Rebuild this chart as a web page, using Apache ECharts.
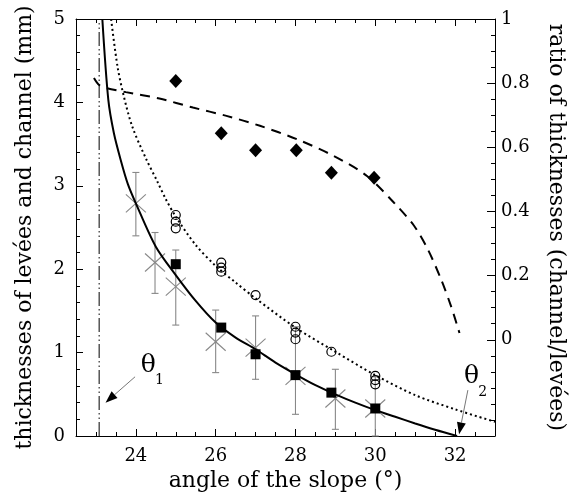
<!DOCTYPE html>
<html><head><meta charset="utf-8">
<script src="https://cdn.jsdelivr.net/npm/echarts@6/dist/echarts.min.js"></script>
<style>html,body{margin:0;padding:0;background:#fff}#c{width:588px;height:499px}</style>
</head><body><div id="c"></div>
<script>
const FONT = 'DejaVu Serif';
// tick labels
const xTickLabels = [24, 26, 28, 30, 32];
const leftTickLabels = [0, 1, 2, 3, 4, 5];
const rightTickLabels = [0, 0.2, 0.4, 0.6, 0.8, 1];
// fitted curves
const channelFit = [[23.16,5.0],[23.31,4.03],[23.45,3.63],[23.62,3.31],[23.8,3.02],[24,2.79],[24.5,2.27],[25,1.93],[25.5,1.62],[26,1.36],[26.5,1.18],[27,1.04],[27.5,0.88],[28,0.74],[28.5,0.61],[29,0.50],[29.5,0.40],[30,0.31],[30.5,0.23],[31,0.15],[31.5,0.075],[32.05,0]];
const leveeFit = [[23.38,5.0],[23.54,4.43],[23.7,4.07],[23.91,3.71],[24.25,3.33],[24.55,3.04],[24.75,2.84],[25,2.63],[25.5,2.29],[26,2.04],[26.5,1.84],[27,1.65],[28,1.30],[29,1.01],[30,0.73],[31,0.49],[32,0.32],[33,0.17]];
const ratioFit = [[22.95,0.816],[23.08,0.794],[23.28,0.784],[23.75,0.772],[24.59,0.752],[25.43,0.724],[26.27,0.698],[27.11,0.667],[28.04,0.625],[28.96,0.573],[29.8,0.51],[30.47,0.427],[30.98,0.354],[31.32,0.281],[31.65,0.188],[31.9,0.104],[32.11,0.021]];
// measured points
const ratioPts = [[25,0.807],[26.14,0.644],[27,0.591],[28.02,0.591],[28.9,0.521],[29.97,0.505]];
const leveePts = [[25,2.65],[25,2.57],[25,2.49],[26.14,2.08],[26.14,2.02],[26.14,1.97],[27,1.69],[28,1.31],[28,1.24],[28,1.16],[28.9,1.01],[30,0.72],[30,0.67],[30,0.62]];
const channelPts = [[25,2.06],[26.14,1.30],[27,0.98],[28,0.73],[28.9,0.52],[30,0.33]];
// x, mean, low, high
const crossPts = [[24,2.79,2.40,3.16],[24.48,2.08,1.71,2.44],[25,1.79,1.33,2.23],[26,1.13,0.76,1.51],[27,1.06,0.68,1.44],[28,0.72,0.26,1.31],[29,0.45,0.08,0.80],[30,0.33,0.0,0.71]];
// theta1 vertical line
const theta1X = [23.08];
// annotations: arrow from (x1,y1) to (x2,y2)
const arrows = [[23.98,0.71,23.24,0.40],[32.32,0.55,32.1,0.02]];
// symbol, subscript, symbol pos, subscript pos
const thetaLabels = [['θ','1',24.31,0.85,24.59,0.67],['θ','2',32.41,0.71,32.69,0.52]];

const chart = echarts.init(document.getElementById('c'), null, {renderer:'canvas'});
const lbl = {fontFamily: FONT, fontSize: 18, color: '#000'};
const nameStyle = {fontFamily: FONT, fontSize: 22, color: '#000'};
const axLine = {show:true, onZero:false, lineStyle:{color:'#000', width:1}};
const noLine = {show:false, onZero:false};

chart.setOption({
  animation: false,
  backgroundColor: '#fff',
  grid: {left: 76, right: 93, top: 19, bottom: 63},
  xAxis: [
    {type:'value', min:22.5, max:33, position:'bottom', axisLine:axLine,
     axisTick:{show:true, inside:true, length:7, customValues:xTickLabels, lineStyle:{color:'#000'}},
     axisLabel:Object.assign({margin:11, customValues:xTickLabels}, lbl),
     splitLine:{show:false},
     name:'angle of the slope (°)', nameLocation:'middle', nameGap:34, nameTextStyle:nameStyle},
    {type:'value', min:22.5, max:33, interval:0.5, position:'bottom', axisLine:noLine,
     axisTick:{show:true, inside:true, length:4, lineStyle:{color:'#000'}},
     axisLabel:{show:false}, splitLine:{show:false}},
    {type:'value', min:22.5, max:33, position:'top', axisLine:axLine,
     axisTick:{show:true, inside:true, length:7, customValues:xTickLabels, lineStyle:{color:'#000'}},
     axisLabel:{show:false}, splitLine:{show:false}},
    {type:'value', min:22.5, max:33, interval:0.5, position:'top', axisLine:noLine,
     axisTick:{show:true, inside:true, length:4, lineStyle:{color:'#000'}},
     axisLabel:{show:false}, splitLine:{show:false}}
  ],
  yAxis: [
    {type:'value', min:0, max:5, interval:1, position:'left', axisLine:axLine,
     axisTick:{show:true, inside:true, length:7, lineStyle:{color:'#000'}},
     minorTick:{show:true, splitNumber:5, length:4, lineStyle:{color:'#000'}},
     axisLabel:Object.assign({margin:11, customValues:leftTickLabels}, lbl),
     splitLine:{show:false}, minorSplitLine:{show:false},
     name:'thicknesses of levées and channel (mm)', nameLocation:'middle', nameGap:40, nameTextStyle:nameStyle},
    {type:'value', min:-0.3, max:1, interval:0.05, position:'right', axisLine:axLine,
     axisTick:{show:true, inside:true, length:4, lineStyle:{color:'#000'}},
     axisLabel:Object.assign({margin:6, customValues:rightTickLabels, formatter:(v)=>String(+v.toFixed(1))}, lbl),
     splitLine:{show:false},
     name:'ratio of thicknesses (channel/levées)', nameLocation:'middle', nameRotate:-90, nameGap:50, nameTextStyle:nameStyle},
    {type:'value', min:-0.3, max:1, position:'right', axisLine:noLine,
     axisTick:{show:true, inside:true, length:8, customValues:rightTickLabels, lineStyle:{color:'#000'}},
     axisLabel:{show:false}, splitLine:{show:false}}
  ],
  series: [
    {type:'custom', name:'theta1', xAxisIndex:0, yAxisIndex:0, data:theta1X.map(x=>[x]), silent:true,
     renderItem:(params, api)=>{
       const p0 = api.coord([api.value(0), 0]);
       const p1 = api.coord([api.value(0), 5]);
       return {type:'line', shape:{x1:p0[0], y1:p0[1], x2:p1[0], y2:p1[1]},
         style:{stroke:'#000', lineWidth:1, lineDash:[14,3,1.5,3,1.5,3]}};
     }},
    {type:'line', name:'channel fit', xAxisIndex:0, yAxisIndex:0, data:channelFit, smooth:0.3, showSymbol:false,
     lineStyle:{color:'#000', width:2}, z:3},
    {type:'line', name:'levee fit', xAxisIndex:0, yAxisIndex:0, data:leveeFit, smooth:0.3, showSymbol:false,
     lineStyle:{color:'#000', width:2, type:[2,3]}, z:3},
    {type:'line', name:'ratio fit', xAxisIndex:0, yAxisIndex:1, data:ratioFit, smooth:0.3, showSymbol:false,
     lineStyle:{color:'#000', width:2, type:[10,7]}, z:3},
    {type:'custom', name:'crosses', xAxisIndex:0, yAxisIndex:0, data:crossPts, z:2,
     renderItem:(params, api)=>{
       const x = api.value(0), m = api.value(1), lo = api.value(2), hi = api.value(3);
       const c = api.coord([x, m]), a = api.coord([x, lo]), b = api.coord([x, hi]);
       const col = '#888', w = 1.1, cap = 3.5, hx = 10, hy = 9;
       return {type:'group', children:[
         {type:'line', shape:{x1:a[0], y1:a[1], x2:b[0], y2:b[1]}, style:{stroke:col, lineWidth:w}},
         {type:'line', shape:{x1:a[0]-cap, y1:a[1], x2:a[0]+cap, y2:a[1]}, style:{stroke:col, lineWidth:w}},
         {type:'line', shape:{x1:b[0]-cap, y1:b[1], x2:b[0]+cap, y2:b[1]}, style:{stroke:col, lineWidth:w}},
         {type:'line', shape:{x1:c[0]-hx, y1:c[1]-hy, x2:c[0]+hx, y2:c[1]+hy}, style:{stroke:col, lineWidth:w}},
         {type:'line', shape:{x1:c[0]-hx, y1:c[1]+hy, x2:c[0]+hx, y2:c[1]-hy}, style:{stroke:col, lineWidth:w}}
       ]};
     }},
    {type:'scatter', name:'levee', xAxisIndex:0, yAxisIndex:0, data:leveePts, symbol:'circle', symbolSize:9,
     itemStyle:{color:'rgba(255,255,255,0)', borderColor:'#000', borderWidth:1.2, opacity:1}, z:4},
    {type:'scatter', name:'channel', xAxisIndex:0, yAxisIndex:0, data:channelPts, symbol:'rect', symbolSize:10,
     itemStyle:{color:'#000', opacity:1}, z:4},
    {type:'scatter', name:'ratio', xAxisIndex:0, yAxisIndex:1, data:ratioPts, symbol:'diamond', symbolSize:[13,14],
     itemStyle:{color:'#000', opacity:1}, z:4},
    {type:'custom', name:'arrows', xAxisIndex:0, yAxisIndex:0, data:arrows, z:5, silent:true,
     renderItem:(params, api)=>{
       const s = api.coord([api.value(0), api.value(1)]);
       const t = api.coord([api.value(2), api.value(3)]);
       const dx = t[0]-s[0], dy = t[1]-s[1], L = Math.hypot(dx,dy), ux = dx/L, uy = dy/L;
       const hl = 12, hw = 4.5;
       const bx = t[0]-ux*hl, by = t[1]-uy*hl;
       return {type:'group', children:[
         {type:'line', shape:{x1:s[0], y1:s[1], x2:bx, y2:by}, style:{stroke:'#777', lineWidth:1}},
         {type:'polygon', shape:{points:[[t[0],t[1]],[bx-uy*hw, by+ux*hw],[bx+uy*hw, by-ux*hw]]}, style:{fill:'#000'}}
       ]};
     }},
    {type:'custom', name:'labels', xAxisIndex:0, yAxisIndex:0, data:thetaLabels.map(d=>[d[2],d[3],d[4],d[5]]), z:5, silent:true,
     renderItem:(params, api)=>{
       const d = thetaLabels[params.dataIndex];
       const p = api.coord([api.value(0), api.value(1)]), q = api.coord([api.value(2), api.value(3)]);
       return {type:'group', children:[
         {type:'text', x:p[0], y:p[1], style:{text:d[0], fontFamily:FONT, fontSize:25, fill:'#000', align:'center', verticalAlign:'middle'}},
         {type:'text', x:q[0], y:q[1], style:{text:d[1], fontFamily:FONT, fontSize:14, fill:'#000', align:'center', verticalAlign:'middle'}}
       ]};
     }}
  ]
});
</script></body></html>
